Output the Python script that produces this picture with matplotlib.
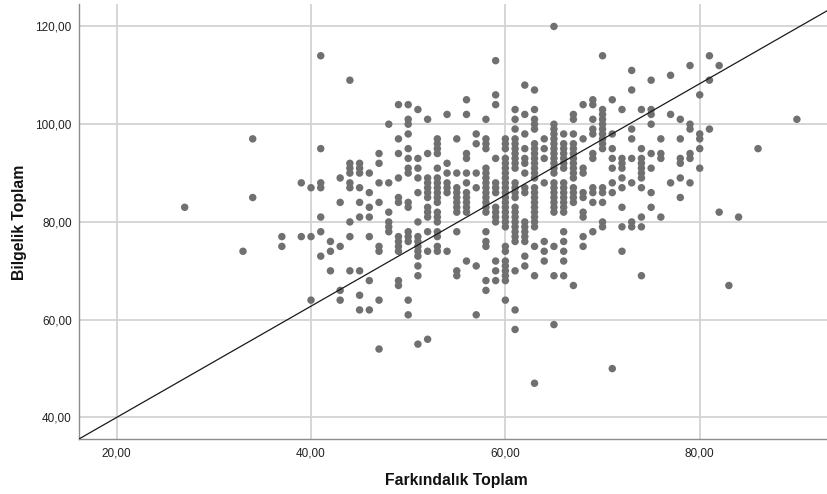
import numpy as np
import matplotlib
matplotlib.use("Agg")
import matplotlib.pyplot as plt
from matplotlib.ticker import FuncFormatter

# Farkındalık Toplam values (x) that occur, and the Bilgelik Toplam values (y) read at each
farkindalik_levels = [27, 33, 34, 37, 39, 40, 41, 42, 43, 44, 45, 46, 47, 48, 49, 50,
                      51, 52, 53, 54, 55, 56, 57, 58, 59, 60, 61, 62, 63, 64, 65, 66,
                      67, 68, 69, 70, 71, 72, 73, 74, 75, 76, 77, 78, 79, 80, 81, 82,
                      83, 84, 86, 90]

bilgelik_by_level = [
    [83],
    [74],
    [97, 85],
    [77, 75],
    [88, 77],
    [87, 77, 64],
    [114, 95, 88, 87, 81, 78, 73],
    [76, 74, 70],
    [89, 84, 75, 66, 64],
    [109, 92, 91, 90, 88, 87, 80, 77, 70],
    [92, 91, 90, 87, 84, 81, 70, 65, 62],
    [90, 86, 83, 81, 77, 68, 62],
    [94, 92, 88, 84, 75, 74, 64, 54],
    [100, 88, 82, 80, 79, 78],
    [104, 97, 94, 89, 85, 84, 77, 76, 75, 74, 68, 67],
    [104, 101, 100, 98, 95, 93, 91, 90, 84, 83, 78, 77, 76, 64, 61],
    [103, 93, 91, 89, 86, 80, 77, 76, 75, 74, 73, 71, 69, 55],
    [101, 94, 89, 88, 87, 86, 85, 83, 82, 81, 78, 74, 56],
    [97, 96, 95, 94, 91, 89, 88, 87, 86, 85, 84, 82, 81, 80, 78, 77, 75, 74],
    [102, 92, 90, 88, 87, 86, 74],
    [97, 90, 87, 86, 85, 84, 83, 82, 78, 70, 69],
    [105, 102, 94, 93, 90, 88, 86, 85, 84, 83, 82, 72],
    [98, 96, 90, 87, 71, 61],
    [101, 97, 96, 95, 91, 90, 89, 88, 87, 86, 85, 84, 83, 82, 78, 76, 75, 68, 66],
    [113, 106, 104, 93, 88, 87, 86, 83, 82, 81, 80, 72, 70, 68],
    [97, 96, 95, 93, 92, 91, 90, 89, 88, 87, 86, 85, 84, 83, 82, 81, 80, 79, 75, 74,
     72, 71, 70, 69, 68, 64],
    [103, 101, 99, 97, 96, 95, 94, 93, 92, 91, 88, 87, 86, 85, 83, 82, 81, 80, 79, 78,
     77, 76, 70, 62, 58],
    [108, 102, 98, 95, 93, 92, 90, 87, 86, 80, 79, 78, 77, 76, 73, 71],
    [107, 103, 101, 100, 99, 96, 95, 94, 93, 92, 91, 90, 89, 87, 86, 85, 84, 83, 82, 81,
     80, 79, 75, 69, 47],
    [97, 95, 93, 88, 76, 74, 72],
    [120, 100, 99, 98, 97, 96, 95, 94, 93, 92, 91, 90, 88, 87, 86, 85, 84, 83, 82, 75,
     69, 59],
    [98, 96, 95, 94, 93, 92, 91, 88, 87, 86, 85, 84, 83, 82, 78, 76, 74, 72, 69],
    [102, 101, 98, 96, 95, 94, 93, 92, 91, 90, 89, 87, 86, 85, 84, 67],
    [104, 97, 91, 90, 86, 85, 82, 81, 77, 75],
    [105, 104, 101, 99, 98, 94, 93, 87, 86, 84, 78],
    [114, 103, 102, 101, 100, 99, 98, 97, 96, 95, 87, 86, 84, 80, 79],
    [105, 98, 95, 93, 91, 88, 86, 50],
    [103, 93, 92, 91, 89, 87, 83, 79, 74],
    [111, 107, 99, 97, 93, 88, 80, 79],
    [103, 95, 93, 92, 91, 90, 89, 87, 81, 79, 69],
    [109, 103, 102, 100, 94, 91, 86, 83],
    [97, 94, 93, 81],
    [110, 102, 88],
    [101, 97, 93, 92, 89, 85],
    [112, 100, 99, 94, 93, 88],
    [106, 98, 97, 95, 91],
    [114, 109, 99],
    [112, 82],
    [67],
    [81],
    [95],
    [101],
]

x_ticks = [20, 40, 60, 80]
y_ticks = [40, 60, 80, 100, 120]
x_label = "Farkındalık Toplam"
y_label = "Bilgelik Toplam"

assert len(farkindalik_levels) == len(bilgelik_by_level)
x = np.repeat(farkindalik_levels, [len(v) for v in bilgelik_by_level])
y = np.concatenate([np.array(v, dtype=float) for v in bilgelik_by_level])

plt.rcParams['font.family'] = ['Liberation Sans', 'DejaVu Sans']

fig = plt.figure(figsize=(8.28, 4.94), dpi=100)
ax = fig.add_axes([0.095, 0.111, 0.905, 0.881])

xlim = (16.09, 93.2)
ylim = (35.56, 124.6)
ax.set_xlim(*xlim)
ax.set_ylim(*ylim)

ax.grid(True, color='#d3d3d3', linewidth=1.3, zorder=0)
ax.set_axisbelow(True)

ax.scatter(x, y, s=29, color='#707070', edgecolors='none', zorder=3)

# diagonal reference line from lower-left corner
slope = 1.138
x0, y0 = xlim[0], ylim[0]
ax.plot([x0, xlim[1]], [y0, y0 + slope * (xlim[1] - x0)], color='#1a1a1a',
        linewidth=0.9, zorder=4, clip_on=True)

ax.set_xticks(x_ticks)
ax.set_yticks(y_ticks)
fmt = FuncFormatter(lambda v, p: f"{v:.2f}".replace('.', ','))
ax.xaxis.set_major_formatter(fmt)
ax.yaxis.set_major_formatter(fmt)
ax.tick_params(length=0, labelsize=8.5, colors='#222222', pad=5)
ax.tick_params(axis='x', pad=6)

for side in ['top', 'right']:
    ax.spines[side].set_visible(False)
for side in ['left', 'bottom']:
    ax.spines[side].set_color('#8c8c8c')
    ax.spines[side].set_linewidth(1.0)

fig.text(0.551, 0.028, x_label, ha='center', va='center', fontsize=11.3,
         fontweight='bold', color='#111111')
fig.text(0.024, 0.55, y_label, ha='center', va='center', rotation=90,
         fontsize=11.3, fontweight='bold', color='#111111')

fig.savefig('out.png', dpi=100)
